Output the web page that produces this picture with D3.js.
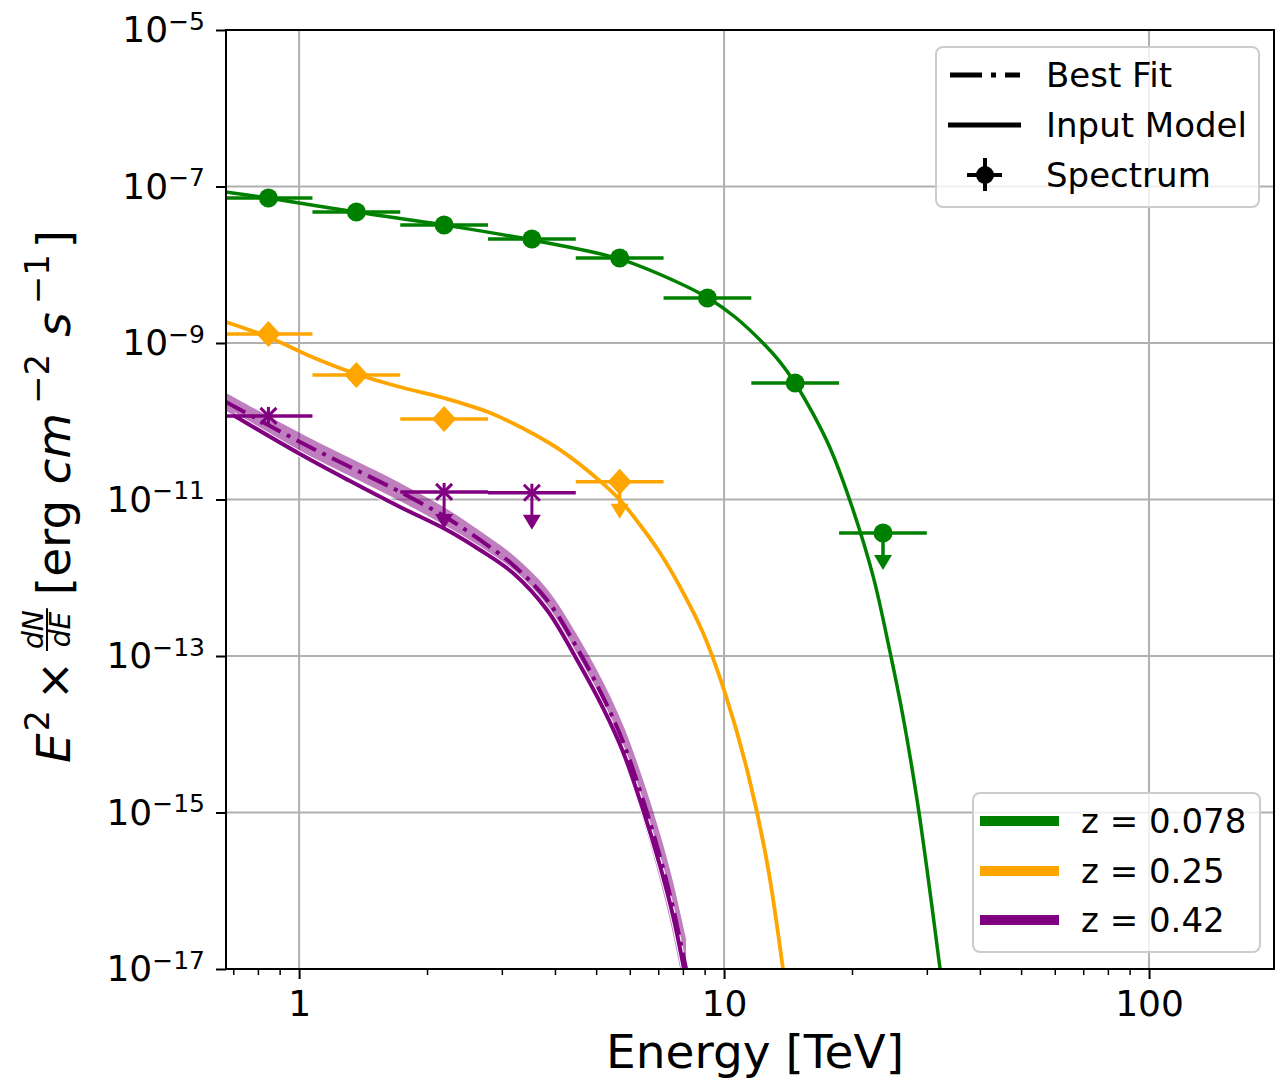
<!DOCTYPE html>
<html>
<head>
<meta charset="utf-8">
<script src="https://cdn.jsdelivr.net/npm/d3@7"></script>
<style>
body { margin: 0; background: #fff; }
svg { display: block; font-family: "DejaVu Sans", sans-serif; }
</style>
</head>
<body>
<div id="chart"></div>
<script>
// Colores fijos
const COLOR_GREEN = '#008000',
COLOR_ORANGE = '#FFA500',
COLOR_PURPLE = '#800080',
COLOR_GRID = '#b0b0b0';

// Energy bins [TeV]
const binCenter = [0.847, 1.364, 2.194, 3.530, 5.680, 9.139, 14.70, 23.66];
const binLow = [0.668, 1.075, 1.730, 2.783, 4.478, 7.205, 11.59, 18.65];
const binHigh = [1.075, 1.730, 2.783, 4.478, 7.205, 11.59, 18.65, 30.0];

// Spectrum points (bin index, flux, upper limit)
const greenBins = [0, 1, 2, 3, 4, 5, 6, 7];
const greenFlux = [7.13e-8, 4.72e-8, 3.22e-8, 2.13e-8, 1.22e-8, 3.76e-9, 3.08e-10, 3.73e-12];
const greenUL = [false, false, false, false, false, false, false, true];

const orangeBins = [0, 1, 2, 4];
const orangeFlux = [1.30e-9, 3.90e-10, 1.07e-10, 1.68e-11];
const orangeUL = [false, false, false, true];

const purpleBins = [0, 2, 3];
const purpleFlux = [1.17e-10, 1.25e-11, 1.22e-11];
const purpleUL = [false, true, true];

// Input models
const greenModelE = [0.673, 0.846, 1.362, 2.193, 3.533, 5.69, 7.84, 9.17, 10.61, 12.35, 13.55, 14.69, 16.20, 17.76, 19.79, 22.42, 24.58, 26.38, 28.46, 30.04, 32.23];
const greenModelF = [8.51e-8, 7.13e-8, 4.72e-8, 3.22e-8, 2.07e-8, 1.18e-8, 5.85e-9, 3.76e-9, 2.15e-9, 1.00e-9, 5.71e-10, 3.08e-10, 1.24e-10, 4.55e-11, 9.57e-12, 1.05e-12, 1.12e-13, 1.66e-14, 1.44e-15, 1.84e-16, 1.0e-17];

const orangeModelE = [0.673, 0.846, 1.073, 1.362, 1.728, 2.193, 2.784, 3.421, 4.113, 5.108, 5.69, 6.345, 7.07, 7.88, 8.925, 10.05, 11.33, 12.63, 13.77];
const orangeModelF = [1.855e-9, 1.193e-9, 6.62e-10, 4.02e-10, 2.74e-10, 1.98e-10, 1.31e-10, 7.73e-11, 4.30e-11, 1.72e-11, 9.86e-12, 4.72e-12, 2.07e-12, 7.62e-13, 1.97e-13, 3.37e-14, 3.49e-15, 2.26e-16, 9.7e-18];

const purpleModelE = [0.699, 1.005, 1.318, 1.728, 2.229, 2.666, 3.187, 3.832, 4.510, 5.192, 5.786, 6.448, 7.07, 7.586, 8.05];
const purpleModelF = [1.20e-10, 3.81e-11, 1.72e-11, 8.02e-12, 4.07e-12, 2.26e-12, 1.15e-12, 3.87e-13, 8.89e-14, 2.16e-14, 5.93e-15, 1.08e-15, 2.07e-16, 4.75e-17, 1.0e-17];

// Best fit (z = 0.42) and its band
const purpleFitE = [0.673, 1.005, 1.318, 1.728, 2.229, 2.666, 3.187, 3.832, 4.510, 5.192, 5.786, 6.448, 7.07, 7.586, 8.139];
const purpleFitF = [1.76e-10, 5.43e-11, 2.60e-11, 1.25e-11, 5.81e-12, 3.04e-12, 1.46e-12, 5.20e-13, 1.27e-13, 2.99e-14, 7.96e-15, 1.44e-15, 2.70e-16, 6.03e-17, 1.0e-17];
const purpleBandHigh = [2.30e-10, 7.08e-11, 3.39e-11, 1.63e-11, 7.57e-12, 3.95e-12, 1.95e-12, 7.19e-13, 1.85e-13, 4.66e-14, 1.31e-14, 2.61e-15, 5.31e-16, 1.29e-16, 2.42e-17];
const purpleBandLow = [1.35e-10, 4.17e-11, 2.00e-11, 9.57e-12, 4.46e-12, 2.33e-12, 1.08e-12, 3.76e-13, 8.63e-14, 1.92e-14, 4.83e-15, 8.02e-16, 1.37e-16, 2.81e-17, 4.14e-18];

// Ticks
const xMajor = [1, 10, 100];
const xTickLabels = ['1', '10', '100'];
const xMinorMult = [2, 3, 4, 5, 6, 7, 8, 9];
const xDecades = [0.1, 1, 10, 100];
const yMajor = [1e-5, 1e-7, 1e-9, 1e-11, 1e-13, 1e-15, 1e-17];
const yTickExp = ['−5', '−7', '−9', '−11', '−13', '−15', '−17'];

// Legends
const legendKinds = ['Best Fit', 'Input Model', 'Spectrum'];
const legendRedshift = ['z = 0.078', 'z = 0.25', 'z = 0.42'];
const legendColors = [COLOR_GREEN, COLOR_ORANGE, COLOR_PURPLE];

init();

function init() {
    let margin = {top: 30, right: 1, bottom: 109, left: 226},
        width = 1275 - margin.left - margin.right,
        height = 1078 - margin.top - margin.bottom;

    let svg = d3.select('#chart')
        .append('svg')
            .attr('width', 1275)
            .attr('height', 1078);

    let g = svg.append('g')
        .attr('transform', 'translate(' + margin.left + ',' + margin.top + ')');

    let x = d3.scaleLog().domain([0.673, 196.8]).range([0, width]);
    let y = d3.scaleLog().domain([1e-17, 1e-5]).range([height, 0]);

    svg.append('defs').append('clipPath').attr('id', 'clip')
        .append('rect').attr('width', width).attr('height', height);

    // grid
    g.append('g').selectAll('line').data(xMajor).enter().append('line')
        .attr('x1', d => x(d)).attr('x2', d => x(d))
        .attr('y1', 0).attr('y2', height)
        .attr('stroke', COLOR_GRID).attr('stroke-width', 2);
    g.append('g').selectAll('line').data(yMajor).enter().append('line')
        .attr('x1', 0).attr('x2', width)
        .attr('y1', d => y(d)).attr('y2', d => y(d))
        .attr('stroke', COLOR_GRID).attr('stroke-width', 2);

    // axes
    let xMinor = [];
    xDecades.forEach(function(dec) {
        xMinorMult.forEach(function(m) {
            let v = dec * m;
            if (v > x.domain()[0] && v < x.domain()[1]) xMinor.push(v);
        });
    });

    let xAxis = g.append('g')
        .attr('transform', 'translate(0,' + height + ')')
        .call(d3.axisBottom(x).tickValues(xMajor).tickFormat((d, i) => xTickLabels[i])
            .tickSize(10).tickSizeOuter(0).tickPadding(11))
        .attr('font-size', 36).attr('font-family', '"DejaVu Sans"');
    xAxis.select('.domain').remove();
    xAxis.selectAll('line').attr('stroke-width', 2);
    xAxis.selectAll('text').attr('fill', '#000');

    let xMinorAxis = g.append('g')
        .attr('transform', 'translate(0,' + height + ')')
        .call(d3.axisBottom(x).tickValues(xMinor).tickFormat(() => '').tickSize(6).tickSizeOuter(0));
    xMinorAxis.select('.domain').remove();
    xMinorAxis.selectAll('line').attr('stroke-width', 1.5);

    let yAxis = g.append('g')
        .call(d3.axisLeft(y).tickValues(yMajor).tickFormat(() => '')
            .tickSize(10).tickSizeOuter(0).tickPadding(11))
        .attr('font-size', 36).attr('font-family', '"DejaVu Sans"');
    yAxis.select('.domain').remove();
    yAxis.selectAll('line').attr('stroke-width', 2);
    yAxis.selectAll('.tick text').each(function(d, i) {
        let t = d3.select(this).attr('fill', '#000');
        t.append('tspan').text('10');
        t.append('tspan').attr('font-size', 25).attr('dy', '-0.5em').text(yTickExp[i]);
    });

    // curves
    let plot = g.append('g').attr('clip-path', 'url(#clip)');

    let line = d3.line()
        .x(d => x(d[0]))
        .y(d => y(d[1]))
        .curve(d3.curveCatmullRom.alpha(0.5));

    let area = d3.area()
        .x(d => x(d[0]))
        .y0(d => y(d[1]))
        .y1(d => y(d[2]))
        .curve(d3.curveCatmullRom.alpha(0.5));

    let zip = (a, b) => a.map((v, i) => [v, b[i]]);

    plot.append('path')
        .attr('d', line(zip(greenModelE, greenModelF)))
        .attr('fill', 'none').attr('stroke', COLOR_GREEN).attr('stroke-width', 3.5);

    plot.append('path')
        .attr('d', line(zip(orangeModelE, orangeModelF)))
        .attr('fill', 'none').attr('stroke', COLOR_ORANGE).attr('stroke-width', 3.8);

    plot.append('path')
        .attr('d', area(purpleFitE.map((e, i) => [e, purpleBandLow[i], purpleBandHigh[i]])))
        .attr('fill', COLOR_PURPLE).attr('fill-opacity', 0.5).attr('stroke', 'none');

    plot.append('path')
        .attr('d', line(zip(purpleModelE, purpleModelF)))
        .attr('fill', 'none').attr('stroke', '#fff').attr('stroke-width', 6);
    plot.append('path')
        .attr('d', line(zip(purpleModelE, purpleModelF)))
        .attr('fill', 'none').attr('stroke', COLOR_PURPLE).attr('stroke-width', 4);

    plot.append('path')
        .attr('d', line(zip(purpleFitE, purpleFitF)))
        .attr('fill', 'none').attr('stroke', COLOR_PURPLE).attr('stroke-width', 4)
        .attr('stroke-dasharray', '22,7,4,7');

    // spectrum points
    drawPoints(plot, x, y, greenBins, greenFlux, greenUL, COLOR_GREEN, 'circle');
    drawPoints(plot, x, y, orangeBins, orangeFlux, orangeUL, COLOR_ORANGE, 'diamond');
    drawPoints(plot, x, y, purpleBins, purpleFlux, purpleUL, COLOR_PURPLE, 'cross');

    // frame
    g.append('rect')
        .attr('width', width).attr('height', height)
        .attr('fill', 'none').attr('stroke', '#000').attr('stroke-width', 2);

    // axis labels
    svg.append('text')
        .attr('x', 755).attr('y', 1068)
        .attr('text-anchor', 'middle')
        .attr('font-size', 47)
        .text('Energy [TeV]');

    drawYLabel(svg);

    // legends
    drawLegendKinds(svg);
    drawLegendRedshift(svg);
}

function drawPoints(plot, x, y, bins, flux, ul, color, marker) {
    let grp = plot.append('g');
    bins.forEach(function(b, i) {
        let cx = x(binCenter[b]), cy = y(flux[i]);
        grp.append('line')
            .attr('x1', x(binLow[b])).attr('x2', x(binHigh[b]))
            .attr('y1', cy).attr('y2', cy)
            .attr('stroke', color).attr('stroke-width', 3.5);
        if (marker == 'cross') {
            grp.append('line')
                .attr('x1', cx).attr('x2', cx)
                .attr('y1', cy - 9).attr('y2', ul[i] ? cy + 24 : cy + 9)
                .attr('stroke', color).attr('stroke-width', 3);
        } else if (ul[i]) {
            grp.append('line')
                .attr('x1', cx).attr('x2', cx)
                .attr('y1', cy).attr('y2', cy + 24)
                .attr('stroke', color).attr('stroke-width', 3.5);
        }
        if (ul[i]) {
            grp.append('path')
                .attr('d', `M${cx - 9},${cy + 22}L${cx + 9},${cy + 22}L${cx},${cy + 37}Z`)
                .attr('fill', color);
        }
        if (marker == 'circle') {
            grp.append('circle').attr('cx', cx).attr('cy', cy).attr('r', 9.5).attr('fill', color);
        } else if (marker == 'diamond') {
            grp.append('path')
                .attr('d', `M${cx},${cy - 13}L${cx + 12},${cy}L${cx},${cy + 13}L${cx - 12},${cy}Z`)
                .attr('fill', color);
        } else {
            grp.append('path')
                .attr('d', `M${cx - 8},${cy - 8}L${cx + 8},${cy + 8}M${cx - 8},${cy + 8}L${cx + 8},${cy - 8}`)
                .attr('stroke', color).attr('stroke-width', 3).attr('fill', 'none');
        }
    });
}

function drawYLabel(svg) {
    let F = 47;
    let lab = svg.append('g')
        .attr('transform', 'translate(70,763) rotate(-90)')
        .attr('font-size', F);
    let u = 0;

    function piece(txt, opts) {
        let t = lab.append('text')
            .attr('x', u).attr('y', opts.v || 0)
            .attr('font-size', opts.size || F)
            .attr('font-style', opts.italic ? 'italic' : 'normal')
            .text(txt);
        u += t.node().getComputedTextLength() + (opts.gap || 0);
        return t;
    }

    piece('E', {italic: true, gap: 2});
    piece('2', {size: 33, v: -21, gap: 10});
    piece('×', {gap: 10});

    // fraction dN/dE
    let fs = 28;
    let num = lab.append('text').attr('font-size', fs).attr('font-style', 'italic').attr('y', -27).text('dN');
    let den = lab.append('text').attr('font-size', fs).attr('font-style', 'italic').attr('y', 0).text('dE');
    let wn = num.node().getComputedTextLength(), wd = den.node().getComputedTextLength();
    let w = Math.max(wn, wd) + 4;
    num.attr('x', u + (w - wn) / 2);
    den.attr('x', u + (w - wd) / 2);
    lab.append('line')
        .attr('x1', u).attr('x2', u + w)
        .attr('y1', -23).attr('y2', -23)
        .attr('stroke', '#000').attr('stroke-width', 2);
    u += w + 13;

    piece('[erg', {gap: 15});
    piece('cm', {italic: true, gap: 9});
    piece('−2', {size: 34, v: -21, gap: 17});
    piece('s', {italic: true, gap: 8});
    piece('−1', {size: 34, v: -21, gap: 6});
    piece(']', {});
}

function drawLegendKinds(svg) {
    let lg = svg.append('g');
    lg.append('rect')
        .attr('x', 936).attr('y', 47).attr('width', 323).attr('height', 160).attr('rx', 7)
        .attr('fill', '#fff').attr('fill-opacity', 0.8)
        .attr('stroke', '#cccccc').attr('stroke-width', 2);
    let rows = [75, 125, 175];
    lg.append('line').attr('x1', 950).attr('x2', 1020).attr('y1', rows[0]).attr('y2', rows[0])
        .attr('stroke', '#000').attr('stroke-width', 5).attr('stroke-dasharray', '32,9,5,9');
    lg.append('line').attr('x1', 948).attr('x2', 1021).attr('y1', rows[1]).attr('y2', rows[1])
        .attr('stroke', '#000').attr('stroke-width', 5);
    lg.append('line').attr('x1', 967).attr('x2', 1002).attr('y1', rows[2]).attr('y2', rows[2])
        .attr('stroke', '#000').attr('stroke-width', 4);
    lg.append('line').attr('x1', 985).attr('x2', 985).attr('y1', rows[2] - 17).attr('y2', rows[2] + 16)
        .attr('stroke', '#000').attr('stroke-width', 4);
    lg.append('circle').attr('cx', 985).attr('cy', rows[2]).attr('r', 9).attr('fill', '#000');
    lg.selectAll('text.kind').data(legendKinds).enter().append('text')
        .attr('class', 'kind')
        .attr('x', 1046).attr('y', (d, i) => rows[i] + 12)
        .attr('font-size', 34)
        .text(d => d);
}

function drawLegendRedshift(svg) {
    let lg = svg.append('g');
    lg.append('rect')
        .attr('x', 973).attr('y', 793).attr('width', 287).attr('height', 159).attr('rx', 7)
        .attr('fill', '#fff').attr('fill-opacity', 0.8)
        .attr('stroke', '#cccccc').attr('stroke-width', 2);
    let rows = [821, 871, 920];
    legendRedshift.forEach(function(label, i) {
        lg.append('line')
            .attr('x1', 980).attr('x2', 1059).attr('y1', rows[i]).attr('y2', rows[i])
            .attr('stroke', legendColors[i]).attr('stroke-width', 10);
        lg.append('text')
            .attr('x', 1081).attr('y', rows[i] + 12)
            .attr('font-size', 34)
            .text(label);
    });
}
</script>
</body>
</html>
